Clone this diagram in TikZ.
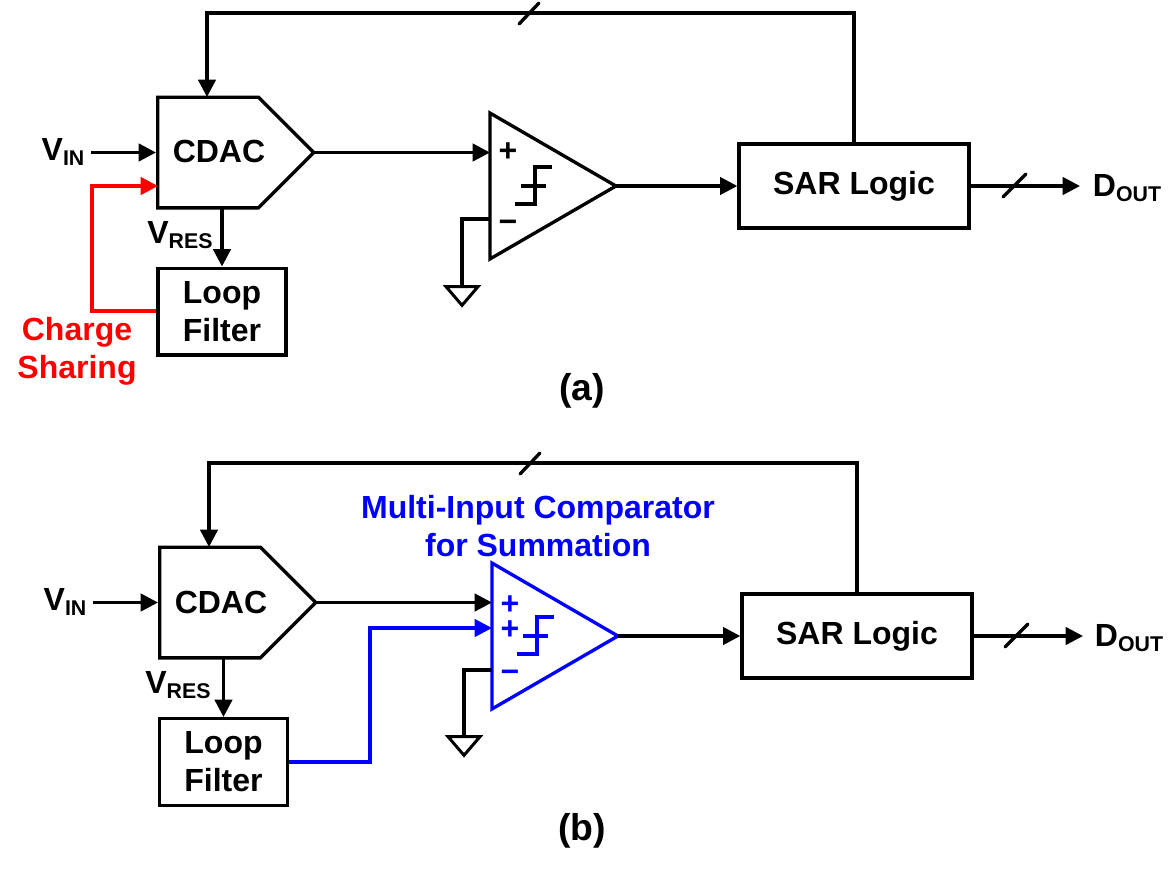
\documentclass[tikz,border=0pt]{standalone}
\usepackage{fontspec}
\setmainfont{Liberation Sans}
\usepackage{xcolor}
\usetikzlibrary{shapes.geometric, shapes.symbols, arrows.meta, positioning}
\definecolor{sumblue}{RGB}{0, 0, 255}
\definecolor{sharered}{RGB}{255, 0, 0}
\newcommand{\subtxt}[1]{{\fontsize{16}{16}\selectfont\raisebox{-0.22em}{#1}}}

\begin{document}
\begin{tikzpicture}[
          x=0.75pt, y=-0.75pt,
          line width=2.5pt,
          txt/.style={inner sep=0pt, align=center, font=\fontsize{24}{28.5}\selectfont\bfseries},
          tag/.style={txt, font=\fontsize{28}{32}\selectfont\bfseries},
          blockbox/.style={rectangle, draw, txt, minimum width=96pt, minimum height=65pt},
          sarbox/.style={rectangle, draw, txt, minimum width=172.5pt, minimum height=63pt},
          cdacbox/.style={signal, signal to=east, signal pointer angle=90, draw, inner sep=0pt, minimum width=117pt, minimum height=83pt},
          compbox/.style={isosceles triangle, isosceles triangle stretches, draw, inner sep=0pt, minimum width=109.5pt, minimum height=94.5pt},
          gndbox/.style={isosceles triangle, isosceles triangle stretches, shape border rotate=-90, draw, inner sep=0pt, line width=2.25pt, minimum width=24pt, minimum height=14pt},
          arr/.style={-{Triangle[length=13pt, width=13pt]}},
          tip/.style={arr, shorten <=-3pt},
          tick/.style={line cap=round}
        ]
  \useasboundingbox (0,0) rectangle (1173,871);

  % panel (a)
  \node[cdacbox] (cdaca) at (208,152.5) {};
  \node[txt] (cdactxta) at (219,151) {CDAC};
  \node[blockbox] (loopa) at (222,311.5) {Loop\\Filter};
  \node[compbox] (compa) at (532,186) {};
  \node[sarbox] (sara) at (854,186) {SAR Logic};
  \node[txt] (vina) at (63,152) {V\subtxt{IN}};
  \node[txt] (vresa) at (180,235) {V\subtxt{RES}};
  \node[txt] (douta) at (1127,188) {D\subtxt{OUT}};
  \node[txt, text=sharered] (chargea) at (77,351) {Charge\\Sharing};
  \node[txt] (plusa) at (508,152) {+};
  \node[txt] (minusa) at (508,226) {\textminus};
  \node[tag] (capa) at (582,391) {(a)};
  \node[gndbox] (gnda) at (462,294) {};

  \coordinate (cdactopa) at (207,97);
  \coordinate (cdacinra) at (158,186);
  \coordinate (cdacresa) at (222,208);
  \coordinate (topa) at (207,13);
  \coordinate (incompa) at (490,152.5);
  \coordinate (ingnda) at (490,219);
  \coordinate (benda) at (462,219);
  \coordinate (reda) at (92,311);
  \coordinate (redupa) at (92,186);
  \coordinate (outa) at (1080,186);
  \coordinate (slashfba) at (529,13);
  \coordinate (slashouta) at (1014,186);

  \draw[arr] (sara.north) |- (topa) -- (cdactopa);
  \draw[arr] ([xshift=3.75pt]vina.east |- cdaca.west) -- (cdaca.west);
  \draw[tip] (cdaca.east) -- (incompa);
  \draw[tip] (compa.apex) -- (sara.west);
  \draw[arr] (sara.east) -- (outa);
  \draw[arr] (cdacresa) -- (loopa.north);
  \draw (ingnda) -- (benda) -- (gnda.north);
  \draw[arr, color=sharered] (loopa.west |- reda) -- (reda) -- (redupa) -- (cdacinra);
  \draw[tick] (slashfba) ++(-10,11) -- ++(20,-21);
  \draw[tick] (slashouta) ++(-11,11) -- ++(23,-23);
  % relay symbol
  \draw (552,167) -- (535,167) -- (535,204) -- (515,204);
  \draw (521,186) -- (546,186);

  % panel (b)
  \node[cdacbox] (cdacb) at (210,602.5) {};
  \node[txt] (cdactxtb) at (221,602) {CDAC};
  \node[blockbox] (loopb) at (223.5,762) {Loop\\Filter};
  \node[compbox, draw=sumblue] (compb) at (534,636) {};
  \node[sarbox] (sarb) at (857,636) {SAR Logic};
  \node[txt] (vinb) at (65,602) {V\subtxt{IN}};
  \node[txt] (vresb) at (178,685) {V\subtxt{RES}};
  \node[txt] (doutb) at (1129,638) {D\subtxt{OUT}};
  \node[txt, text=sumblue] (titleb) at (538,526) {Multi-Input Comparator\\for Summation};
  \node[txt, text=sumblue, font=\fontsize{24}{18.75}\selectfont\bfseries] (plusb) at (510,617.5) {+\\+};
  \node[txt, text=sumblue] (minusb) at (510,676) {\textminus};
  \node[tag] (capb) at (582,831) {(b)};
  \node[gndbox] (gndb) at (464,744) {};

  \coordinate (cdactopb) at (209,547);
  \coordinate (cdacresb) at (223.5,658);
  \coordinate (topb) at (209,463);
  \coordinate (incompb) at (492,602.5);
  \coordinate (insumb) at (492,628);
  \coordinate (ingndb) at (492,670);
  \coordinate (bendb) at (464,670);
  \coordinate (bluelowb) at (370,762);
  \coordinate (bluehighb) at (370,628);
  \coordinate (outb) at (1083,636);
  \coordinate (slashfbb) at (530,463);
  \coordinate (slashoutb) at (1016,636);

  \draw[arr] (sarb.north) |- (topb) -- (cdactopb);
  \draw[arr] ([xshift=3.75pt]vinb.east |- cdacb.west) -- (cdacb.west);
  \draw[tip] (cdacb.east) -- (incompb);
  \draw[tip] (compb.apex) -- (sarb.west);
  \draw[arr] (sarb.east) -- (outb);
  \draw[arr] (cdacresb) -- (loopb.north);
  \draw (ingndb) -- (bendb) -- (gndb.north);
  \draw[arr, color=sumblue] (loopb.east) -- (bluelowb) -- (bluehighb) -- (insumb);
  \draw[tick] (slashfbb) ++(-10,11) -- ++(20,-21);
  \draw[tick] (slashoutb) ++(-11,11) -- ++(23,-23);
  % relay symbol
  \draw[color=sumblue] (554,617) -- (537,617) -- (537,654) -- (517,654);
  \draw[color=sumblue] (523,636) -- (548,636);
\end{tikzpicture}
\end{document}
